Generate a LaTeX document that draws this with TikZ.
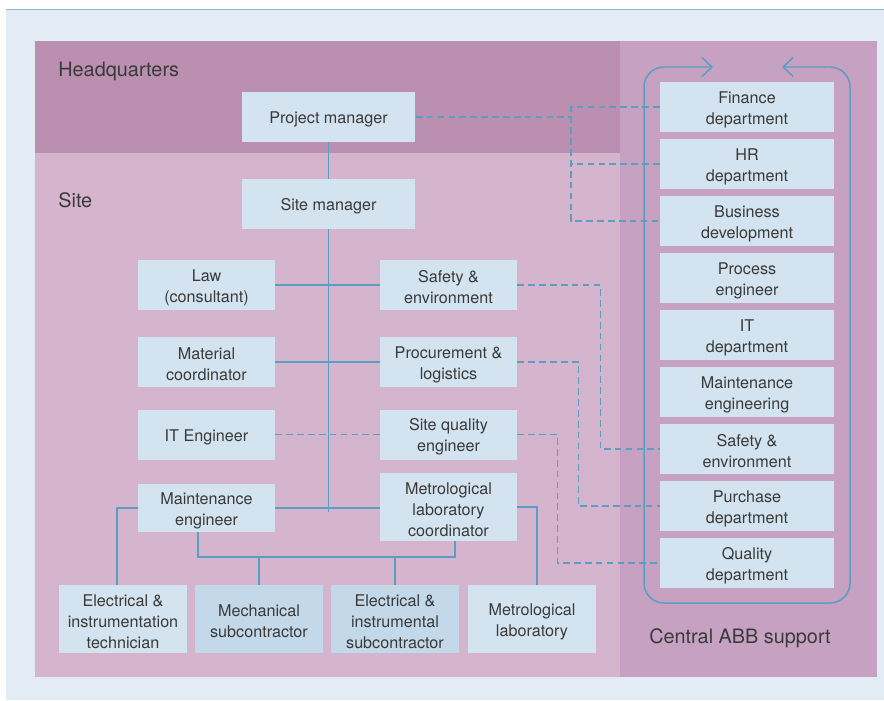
\documentclass[tikz,border=0pt]{standalone}
\usepackage{fontspec}
\setmainfont{TeX Gyre Heros}
\usetikzlibrary{positioning,arrows.meta}

\definecolor{pagebg}{HTML}{E3EBF5}
\definecolor{hqpink}{HTML}{BA8FB0}
\definecolor{sitepink}{HTML}{D4B5CD}
\definecolor{supportpink}{HTML}{C6A1C2}
\definecolor{boxblue}{HTML}{D3E3EF}
\definecolor{subblue}{HTML}{C3D8E8}
\definecolor{linkblue}{HTML}{5A9EC2}
\definecolor{textgrey}{HTML}{3A3A3A}

% pushes the box text a little down, as in the print
\newcommand{\boxstrut}{\rule{0pt}{9.6pt}}

\tikzset{
  orgbox/.style={fill=boxblue, text=textgrey, align=center, inner sep=0pt,
    minimum width=2.74cm, minimum height=1cm, font=\fontsize{9.2}{11.9}\selectfont},
  widebox/.style={orgbox, minimum width=3.48cm},
  lowbox/.style={orgbox, minimum width=2.56cm, minimum height=1.36cm},
  solidlink/.style={draw=linkblue, line width=0.85pt},
  dashlink/.style={draw=linkblue, line width=0.85pt, dash pattern=on 3.8pt off 2.4pt},
  arealabel/.style={font=\fontsize{11.3}{13}\selectfont, text=textgrey, inner sep=0pt},
}

\begin{document}
\begin{tikzpicture}[x=0.02cm, y=-0.02cm]
    \useasboundingbox (0,0) rectangle (884,700);
    \fill[white] (0,0) rectangle (884,700);
    \fill[pagebg] (6,9) rectangle (884,700);
    \draw[linkblue!70, line width=0.5pt] (6,9) -- (884,9);

    % areas
    \fill[sitepink] (35,41) rectangle (620,677);
    \fill[hqpink] (35,41) rectangle (620,153);
    \fill[supportpink] (620,41) rectangle (877,677);

    \node[arealabel, anchor=west] (hq) at (58,71) {Headquarters};
    \node[arealabel, anchor=west] (site) at (58,200) {Site};
    \node[arealabel] (support) at (740,638) {Central ABB support};

    % site organisation
    \node[widebox] (pm) at (328.5,117) {\boxstrut Project manager};
    \node[widebox] (sm) at (328.5,204) {\boxstrut Site manager};
    \node[orgbox] (law) at (206.5,285) {\boxstrut Law\\(consultant)};
    \node[orgbox] (safety) at (448.5,285) {\boxstrut Safety \&\\environment};
    \node[orgbox] (material) at (206.5,362) {\boxstrut Material\\coordinator};
    \node[orgbox] (procure) at (448.5,362) {\boxstrut Procurement \&\\logistics};
    \node[orgbox] (itEng) at (206.5,434.5) {\boxstrut IT Engineer};
    \node[orgbox] (siteQuality) at (448.5,434.5) {\boxstrut Site quality\\engineer};
    \node[orgbox, minimum height=0.96cm] (maint) at (206.5,508) {\boxstrut Maintenance\\engineer};
    \node[orgbox, minimum height=1.36cm] (metro) at (448.5,507) {\boxstrut Metrological\\laboratory\\coordinator};

    \node[lowbox] (eiTech) at (123,619) {\boxstrut Electrical \&\\instrumentation\\technician};
    \node[lowbox, fill=subblue] (mech) at (259,619) {\boxstrut Mechanical\\subcontractor};
    \node[lowbox, fill=subblue] (eiSub) at (395,619) {\boxstrut Electrical \&\\instrumental\\subcontractor};
    \node[lowbox] (metroLab) at (532,619) {\boxstrut Metrological\\laboratory};

    % central support departments
    \foreach \name/\label [count=\i from 0] in {finance/Finance\\department,
        hr/HR\\department, business/Business\\development,
        process/Process\\engineer, itDept/IT\\department,
        maintDept/Maintenance\\engineering, safetyDept/Safety \&\\environment,
        purchase/Purchase\\department, qualityDept/Quality\\department}
        \node[widebox, minimum height=0.99cm] (\name) at (747,{107+57*\i}) {\boxstrut\label};

    % reporting lines
    \coordinate (spineEnd) at (328.5,512);
    \coordinate (busL) at (198,557);
    \coordinate (busR) at (455,557);
    \draw[solidlink] (pm) -- (sm);
    \draw[solidlink] (sm.south) -- (spineEnd);
    \draw[solidlink] (law.east) -- (safety.west);
    \draw[solidlink] (material.east) -- (procure.west);
    \draw[solidlink] (maint.east) -- (maint.east -| metro.west);
    \draw[dashlink] (itEng.east) -- (siteQuality.west);

    \draw[solidlink] (maint.west) -| ([xshift=-0.12cm]eiTech.north);
    \draw[solidlink] (metro.east) -| ([xshift=0.1cm]metroLab.north);
    \draw[solidlink] (maint.south -| busL) -- (busL) -- (busR) -- (metro.south -| busR);
    \draw[solidlink] (mech.north) -- (mech.north |- busL);
    \draw[solidlink] (eiSub.north) -- (eiSub.north |- busL);

    % links to central support
    \coordinate (hqJog) at (571,117);
    \draw[dashlink] (pm.east) -- (hqJog);
    \draw[dashlink] (finance.west) -- (finance.west -| hqJog) -- (business.west -| hqJog) -- (business.west);
    \draw[dashlink] (hr.west) -- (hr.west -| hqJog);
    \draw[dashlink] (safety.east) -- ++(83,0) |- (safetyDept.west);
    \draw[dashlink] (procure.east) -- ++(61,0) |- (purchase.west);
    \draw[dashlink] (siteQuality.east) -- ++(40,0) |- (qualityDept.west);

    % support loop
    \draw[solidlink, rounded corners=0.4cm, {Straight Barb[length=0.2cm, width=0.38cm]}-{Straight Barb[length=0.2cm, width=0.38cm]}]
        (713,67) -- (644,67) -- (644,603) -- (850,603) -- (850,67) -- (782,67);
\end{tikzpicture}
\end{document}
